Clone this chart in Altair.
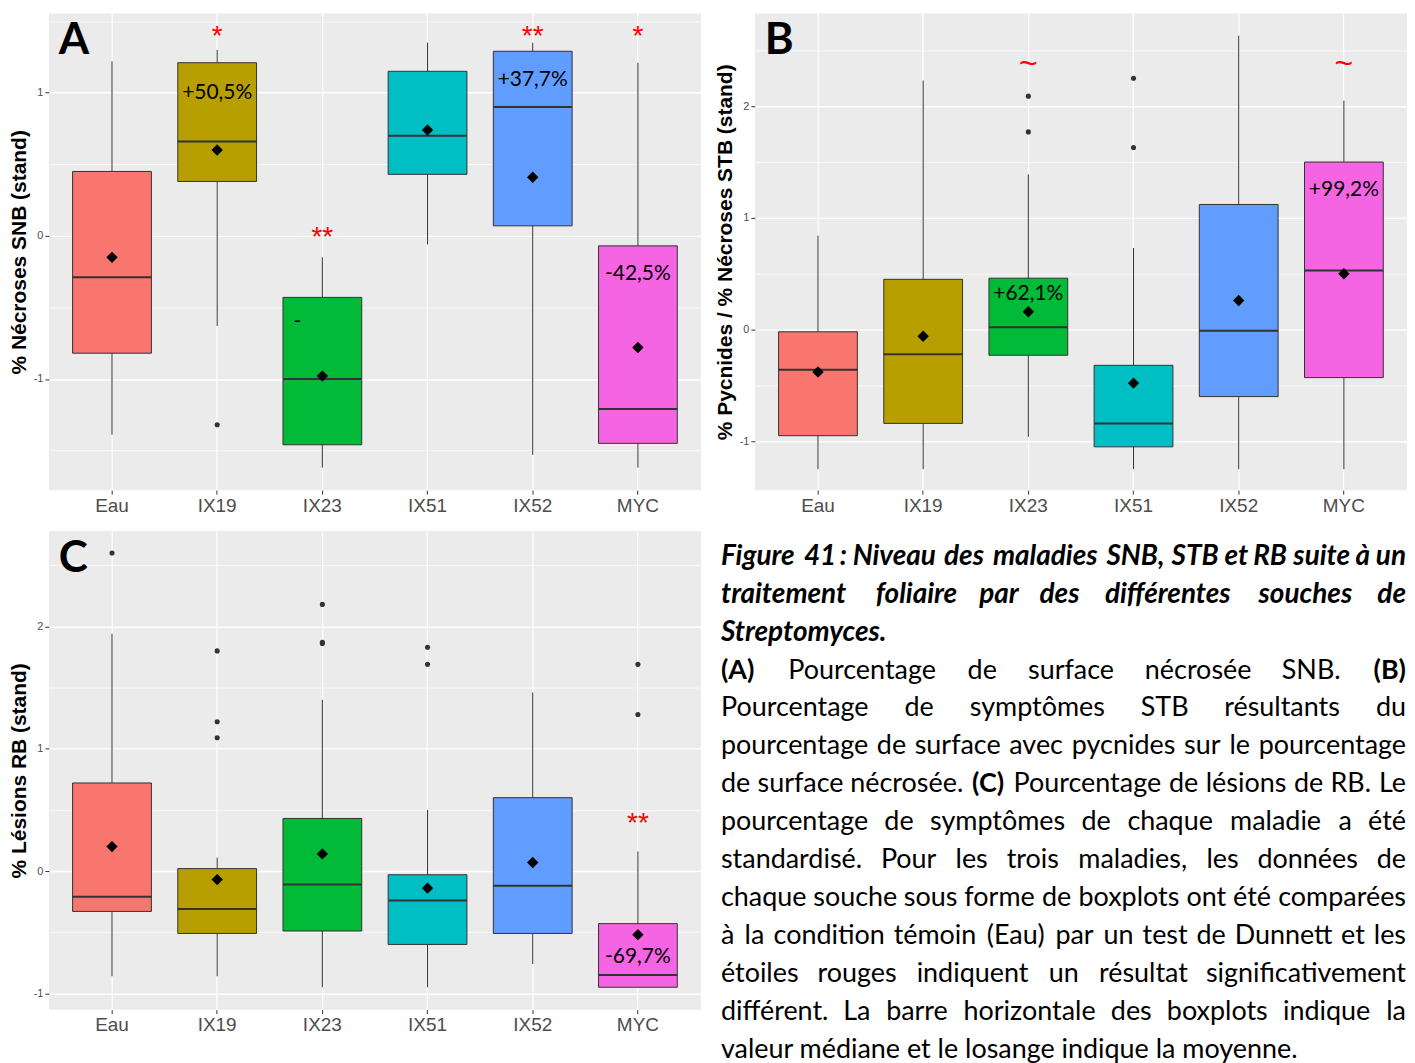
import altair as alt
import pandas as pd

categories = ["Eau", "IX19", "IX23", "IX51", "IX52", "MYC"]
box_colors = ["#F8766D", "#B79F00", "#00BA38", "#00BFC4", "#619CFF", "#F564E3"]

# ---------------- Panel A : % Nécroses SNB (stand)
a_low = [-1.39, -0.63, -1.62, -0.06, -1.53, -1.62]
a_q1 = [-0.82, 0.38, -1.46, 0.43, 0.07, -1.45]
a_med = [-0.29, 0.66, -1.00, 0.70, 0.90, -1.21]
a_q3 = [0.45, 1.21, -0.43, 1.15, 1.29, -0.07]
a_high = [1.22, 1.30, -0.15, 1.35, 1.35, 1.21]
a_mean = [-0.15, 0.60, -0.98, 0.74, 0.41, -0.78]
a_out_cat = ["IX19"]
a_out_val = [-1.32]
a_sig_cat = ["IX19", "IX23", "IX52", "MYC"]
a_sig_txt = ["*", "**", "**", "*"]
a_sig_val = [1.43, 0.03, 1.43, 1.43]
a_lab_cat = ["IX19", "IX52", "MYC"]
a_lab_txt = ["+50,5%", "+37,7%", "-42,5%"]
a_lab_val = [1.00, 1.09, -0.27]
a_dash_cat = ["IX23"]
a_dash_val = [-0.60]

# ---------------- Panel B : % Pycnides / % Nécroses STB (stand)
b_low = [-1.25, -1.25, -0.96, -1.25, -1.25, -1.25]
b_q1 = [-0.95, -0.84, -0.23, -1.05, -0.60, -0.43]
b_med = [-0.36, -0.22, 0.02, -0.84, -0.01, 0.53]
b_q3 = [-0.02, 0.45, 0.46, -0.32, 1.12, 1.50]
b_high = [0.84, 2.23, 1.39, 0.73, 2.63, 2.05]
b_mean = [-0.38, -0.06, 0.16, -0.48, 0.26, 0.50]
b_out_cat = ["IX23", "IX23", "IX51", "IX51"]
b_out_val = [2.09, 1.77, 2.25, 1.63]
b_sig_cat = ["IX23", "MYC"]
b_sig_txt = ["~", "~"]
b_sig_val = [2.38, 2.38]
b_lab_cat = ["IX23", "MYC"]
b_lab_txt = ["+62,1%", "+99,2%"]
b_lab_val = [0.32, 1.25]

# ---------------- Panel C : % Lésions RB (stand)
c_low = [-0.86, -0.86, -0.95, -0.95, -0.76, -0.95]
c_q1 = [-0.33, -0.51, -0.49, -0.60, -0.51, -0.95]
c_med = [-0.21, -0.31, -0.11, -0.24, -0.12, -0.85]
c_q3 = [0.72, 0.02, 0.43, -0.03, 0.60, -0.43]
c_high = [1.94, 0.11, 1.40, 0.50, 1.46, 0.16]
c_mean = [0.20, -0.07, 0.14, -0.14, 0.07, -0.52]
c_out_cat = ["Eau", "IX19", "IX19", "IX19", "IX23", "IX23", "IX23", "IX51", "IX51", "MYC", "MYC"]
c_out_val = [2.60, 1.80, 1.22, 1.09, 2.18, 1.87, 1.86, 1.83, 1.69, 1.69, 1.28]
c_sig_cat = ["MYC"]
c_sig_txt = ["**"]
c_sig_val = [0.43]
c_lab_cat = ["MYC"]
c_lab_txt = ["-69,7%"]
c_lab_val = [-0.70]

# ---------------- Caption
caption_lines = [
    ("Figure 41 : Niveau des maladies SNB, STB et RB suite à un", "title", True),
    ("traitement foliaire par des différentes souches de", "title", True),
    ("Streptomyces.", "title", False),
    ("(A) Pourcentage de surface nécrosée SNB. (B)", "body", True),
    ("Pourcentage de symptômes STB résultants du", "body", True),
    ("pourcentage de surface avec pycnides sur le pourcentage", "body", True),
    ("de surface nécrosée. (C) Pourcentage de lésions de RB. Le", "body", True),
    ("pourcentage de symptômes de chaque maladie a été", "body", True),
    ("standardisé. Pour les trois maladies, les données de", "body", True),
    ("chaque souche sous forme de boxplots ont été comparées", "body", True),
    ("à la condition témoin (Eau) par un test de Dunnett et les", "body", True),
    ("étoiles rouges indiquent un résultat significativement", "body", True),
    ("différent. La barre horizontale des boxplots indique la", "body", True),
    ("valeur médiane et le losange indique la moyenne.", "body", False),
]
bold_tokens = ["(A)", "(B)", "(C)"]

# ---------------- styling helpers
PLOT_W = 654
AX_FONT = "Liberation Sans"
MAJOR = "datum.value % 1 === 0"


def y_axis(vals):
    return alt.Axis(
        values=vals,
        labelExpr=MAJOR + " ? (datum.value < 0 ? '-' + abs(datum.value) : '' + datum.value) : ''",
        grid=True,
        gridColor="white",
        gridWidth={"condition": {"test": MAJOR, "value": 1.4}, "value": 0.7},
        tickOpacity={"condition": {"test": MAJOR, "value": 1}, "value": 0},
        tickSize=4,
        tickColor="#333333",
        labelFont=AX_FONT,
        labelFontSize=11,
        labelColor="#4D4D4D",
        labelPadding=2,
        titleFont=AX_FONT,
        titleFontSize=21,
        titleFontWeight="bold",
        titleColor="black",
        titlePadding=4,
        domain=False,
    )


x_axis = alt.Axis(
    grid=True,
    gridColor="white",
    gridWidth=1.2,
    bandPosition=0.5,
    tickSize=4,
    tickColor="#333333",
    labelFont=AX_FONT,
    labelFontSize=19,
    labelColor="#4D4D4D",
    labelPadding=2,
    labelAngle=0,
    domain=False,
)


def panel(letter, low, q1, med, q3, high, mean, out_cat, out_val,
          sig_cat, sig_txt, sig_val, sig_size, sig_dy,
          lab_cat, lab_txt, lab_val, ytitle, ydomain, yvals, height,
          dash_cat=None, dash_val=None):
    df = pd.DataFrame(dict(cat=categories, low=low, q1=q1, med=med, q3=q3,
                           high=high, mean=mean))
    xs = alt.Scale(domain=categories, paddingInner=0, paddingOuter=0.1)
    ys = alt.Scale(domain=ydomain, nice=False, zero=False)

    def X():
        return alt.X("cat:N", sort=categories, scale=xs, axis=x_axis, title=None)

    def Y(f):
        return alt.Y(f + ":Q", scale=ys, axis=y_axis(yvals), title=ytitle)

    base = alt.Chart(df)
    whisk = base.mark_rule(color="#333333", strokeWidth=1).encode(
        x=X(), y=Y("low"), y2="high:Q")
    box = base.mark_bar(size=79, stroke="#333333", strokeWidth=1, opacity=1).encode(
        x=X(), y=Y("q1"), y2="q3:Q",
        fill=alt.Fill("cat:N", scale=alt.Scale(domain=categories, range=box_colors),
                      legend=None))
    median = base.mark_tick(size=79, thickness=2, color="#333333", opacity=1).encode(
        x=X(), y=Y("med"))
    outl = alt.Chart(pd.DataFrame(dict(cat=out_cat, val=out_val))).mark_circle(
        size=26, color="#333333", opacity=1).encode(x=X(), y=Y("val"))
    means = base.mark_point(shape="diamond", filled=True, size=130, color="black",
                            opacity=1).encode(x=X(), y=Y("mean"))
    sig = alt.Chart(pd.DataFrame(dict(cat=sig_cat, val=sig_val, txt=sig_txt))).mark_text(
        color="#FF0000", font=AX_FONT, fontSize=sig_size, baseline="middle", dy=sig_dy).encode(
        x=X(), y=Y("val"), text="txt:N")
    labs = alt.Chart(pd.DataFrame(dict(cat=lab_cat, val=lab_val, txt=lab_txt))).mark_text(
        color="black", font="Lato", fontSize=21, baseline="middle").encode(
        x=X(), y=Y("val"), text="txt:N")
    letter_mark = alt.Chart(pd.DataFrame(dict(t=[letter]))).mark_text(
        font="Lato", fontWeight="bold", fontSize=44, align="left", baseline="top",
        color="black").encode(x=alt.value(10), y=alt.value(6), text="t:N")
    layers = [whisk, box, median, outl, means, sig, labs]
    if dash_cat:
        layers.append(alt.Chart(pd.DataFrame(dict(cat=dash_cat, val=dash_val, txt=["-"])))
                      .mark_text(color="black", font="Lato", fontSize=21,
                                 baseline="middle", dx=-25)
                      .encode(x=X(), y=Y("val"), text="txt:N"))
    layers.append(letter_mark)
    return alt.layer(*layers).properties(
        width=PLOT_W, height=height, view=alt.ViewBackground(fill="#EBEBEB"))


A = panel("A", a_low, a_q1, a_med, a_q3, a_high, a_mean, a_out_cat, a_out_val,
          a_sig_cat, a_sig_txt, a_sig_val, 28, 6,
          a_lab_cat, a_lab_txt, a_lab_val, "% Nécroses SNB (stand)",
          [-1.777, 1.554], [-1.5, -1, -0.5, 0, 0.5, 1, 1.5], 478,
          a_dash_cat, a_dash_val)
B = panel("B", b_low, b_q1, b_med, b_q3, b_high, b_mean, b_out_cat, b_out_val,
          b_sig_cat, b_sig_txt, b_sig_val, 32, 0,
          b_lab_cat, b_lab_txt, b_lab_val, "% Pycnides / % Nécroses STB (stand)",
          [-1.4375, 2.83], [-1, -0.5, 0, 0.5, 1, 1.5, 2, 2.5], 478)
C = panel("C", c_low, c_q1, c_med, c_q3, c_high, c_mean, c_out_cat, c_out_val,
          c_sig_cat, c_sig_txt, c_sig_val, 28, 6,
          c_lab_cat, c_lab_txt, c_lab_val, "% Lésions RB (stand)",
          [-1.133, 2.78], [-1, -0.5, 0, 0.5, 1, 1.5, 2, 2.5], 480)

# ---------------- caption as justified text
CAP_W = 687
CAP_H = 530
BODY_SIZE = 27
TITLE_SIZE = 28
LINE_STEP = 38.0
TOP_OFF = 26.0

W_TABLE = {
    "a": .51, "b": .56, "c": .46, "d": .56, "e": .52, "f": .32, "g": .50, "h": .56,
    "i": .24, "j": .24, "k": .50, "l": .24, "m": .84, "n": .56, "o": .56, "p": .56,
    "q": .56, "r": .36, "s": .42, "t": .34, "u": .56, "v": .50, "w": .76, "x": .49,
    "y": .50, "z": .45, "é": .52, "è": .52, "à": .51, "ô": .56, "ï": .24,
    "I": .28, "M": .82, "W": .92, "S": .55, "B": .62, "T": .58, "R": .62, "C": .64,
    "A": .66, "P": .58, "L": .50, "D": .70, "E": .55, "F": .52, "N": .72,
    ",": .22, ".": .22, ":": .22, "(": .30, ")": .30, "%": .78, "-": .34,
    "0": .58, "1": .58, "2": .58, "3": .58, "4": .58, "5": .58, "6": .58,
    "7": .58, "8": .58, "9": .58,
}


def est_w(word, bold, size):
    w = sum(W_TABLE.get(ch, 0.62 if ch.isupper() else 0.52) for ch in word)
    return w * size * (1.05 if bold else 1.0)


rows = []
for i, (txt, kind, justify) in enumerate(caption_lines):
    title = kind == "title"
    size = TITLE_SIZE if title else BODY_SIZE
    if not justify:
        rows.append(dict(row=i, x=0.0, text=txt, kind=kind, anchor="left"))
        continue
    words = txt.split(" ")
    widths = [est_w(w, title or w in bold_tokens, size) for w in words]
    gap = (CAP_W - sum(widths)) / (len(words) - 1)
    pos = 0.0
    for j, (w, wd) in enumerate(zip(words, widths)):
        k = "bold" if (not title and w in bold_tokens) else kind
        if j == 0:
            rows.append(dict(row=i, x=0.0, text=w, kind=k, anchor="left"))
        elif j == len(words) - 1:
            rows.append(dict(row=i, x=float(CAP_W), text=w, kind=k, anchor="right"))
        else:
            rows.append(dict(row=i, x=pos + wd / 2, text=w, kind=k, anchor="center"))
        pos += wd + gap
cap_df = pd.DataFrame(rows)

cap_xs = alt.Scale(domain=[0, CAP_W], nice=False, zero=False)
cap_ys = alt.Scale(domain=[-TOP_OFF / LINE_STEP, (CAP_H - TOP_OFF) / LINE_STEP],
                   nice=False, zero=False, reverse=True)
styles = {
    "title": dict(fontWeight="bold", fontStyle="italic", fontSize=TITLE_SIZE),
    "bold": dict(fontWeight="bold", fontStyle="normal", fontSize=BODY_SIZE),
    "body": dict(fontWeight="normal", fontStyle="normal", fontSize=BODY_SIZE),
}
cap_layers = []
for kind, st in styles.items():
    for anchor in ["left", "center", "right"]:
        sub = cap_df[(cap_df.kind == kind) & (cap_df.anchor == anchor)]
        if len(sub) == 0:
            continue
        cap_layers.append(
            alt.Chart(sub).mark_text(font="Lato", align=anchor,
                                     baseline="middle", color="black", **st)
            .encode(x=alt.X("x:Q", scale=cap_xs, axis=None),
                    y=alt.Y("row:Q", scale=cap_ys, axis=None),
                    text="text:N"))
T = alt.layer(*cap_layers).properties(width=CAP_W, height=CAP_H)

top = alt.hconcat(A, B, spacing=13)
bottom = alt.hconcat(C, T, spacing=20)
chart = (alt.vconcat(top, bottom, spacing=16)
         .properties(padding={"left": 0, "top": 4, "right": 0, "bottom": 0})
         .configure_view(strokeWidth=0))

chart.save("out.html", embed_options={"renderer": "svg", "actions": False})
